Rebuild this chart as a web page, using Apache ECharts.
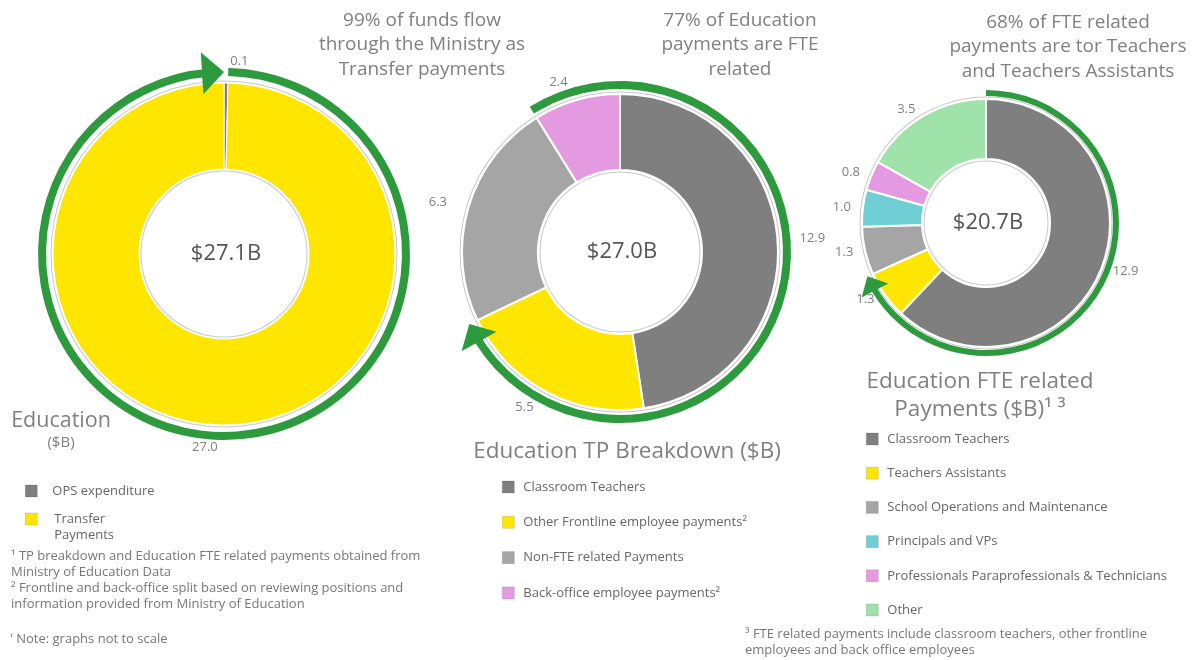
<!DOCTYPE html>
<html>
<head>
<meta charset="utf-8">
<title>Education funding breakdown</title>
<script src="https://cdn.jsdelivr.net/npm/echarts@6/dist/echarts.min.js"></script>
<style>
  html, body { margin: 0; padding: 0; background: #fff; }
  #main { width: 1201px; height: 660px; }
</style>
</head>
<body>
<div id="main"></div>
<script>
// values, $B
const eduNames = ['OPS expenditure', 'Transfer Payments'];
const eduValues = [0.1, 27.0];
const eduTotalLabel = '$27.1B';

const tpNames = ['Classroom Teachers', 'Other Frontline employee payments', 'Non-FTE related Payments', 'Back-office employee payments'];
const tpValues = [12.9, 5.5, 6.3, 2.4];
const tpTotalLabel = '$27.0B';

const fteNames = ['Classroom Teachers', 'Teachers Assistants', 'School Operations and Maintenance', 'Principals and VPs', 'Professionals Paraprofessionals & Technicians', 'Other'];
const fteValues = [12.9, 1.3, 1.3, 1.0, 0.8, 3.5];
const fteTotalLabel = '$20.7B';

const callouts = [
  '99% of funds flow\nthrough the Ministry as\nTransfer payments',
  '77% of Education\npayments are FTE\nrelated',
  '68% of FTE related\npayments are tor Teachers\nand Teachers Assistants'
];

const colorOf = {
  'OPS expenditure': '#7f7f7f',
  'Transfer Payments': '#ffe600',
  'Classroom Teachers': '#7f7f7f',
  'Other Frontline employee payments': '#ffe600',
  'Non-FTE related Payments': '#a5a5a5',
  'Back-office employee payments': '#e49ae0',
  'Teachers Assistants': '#ffe600',
  'School Operations and Maintenance': '#a5a5a5',
  'Principals and VPs': '#6fcfd5',
  'Professionals Paraprofessionals & Technicians': '#e49ae0',
  'Other': '#9fe2aa'
};

const GREEN = '#2e9a3e';
const FONT = '"Open Sans", "Noto Sans", sans-serif';
const GREY_TEXT = '#808080';

// arcFrom/arcCount = which slices the green arrow runs over (clockwise)
const donuts = [
  { names: eduNames, values: eduValues, total: eduTotalLabel, center: [224, 254], radius: [85, 171], ring: [178, 186], labelLen: 22, border: 1, arcFrom: 1, arcCount: 1, arrow: [42, 22] },
  { names: tpNames, values: tpValues, total: tpTotalLabel, center: [620, 252], radius: [82, 158], ring: [163, 171], labelLen: 18, border: 2, arcFrom: 3, arcCount: 3, arrow: [40, 20] },
  { names: fteNames, values: fteValues, total: fteTotalLabel, center: [986, 223], radius: [64, 124], ring: [127, 133], labelLen: 8, border: 2, arcFrom: 0, arcCount: 2, arrow: [30, 16] }
];

function sum(a) { return a.reduce((s, v) => s + v, 0); }
function polar(c, r, deg) {
  const a = deg * Math.PI / 180;
  return [c[0] + r * Math.cos(a), c[1] - r * Math.sin(a)];
}

const series = [];
const graphics = [];

donuts.forEach(function (d) {
  const tot = sum(d.values);
  const n = d.values.length;

  // thin grey outlines around the donut
  [[d.radius[1] + 1.5, d.radius[1] + 2.5], [d.radius[0] - 2.5, d.radius[0] - 1.5]].forEach(function (r) {
    series.push({
      type: 'pie', silent: true, center: d.center, radius: r,
      label: { show: false }, labelLine: { show: false },
      emphasis: { disabled: true },
      data: [{ value: 1, name: '_outline', itemStyle: { color: '#c8c8c8' } }]
    });
  });

  series.push({
    type: 'pie',
    center: d.center,
    radius: d.radius,
    startAngle: 90,
    clockwise: true,
    avoidLabelOverlap: false,
    itemStyle: { borderColor: '#fff', borderWidth: d.border },
    label: {
      show: true, position: 'outside', color: '#7f7f7f', fontSize: 13, fontFamily: FONT,
      distanceToLabelLine: 4,
      formatter: function (p) { return p.value.toFixed(1); }
    },
    labelLine: { show: false, length: d.labelLen, length2: 0 },
    emphasis: { disabled: true },
    data: d.names.map(function (name, i) {
      return { name: name, value: d.values[i], itemStyle: { color: colorOf[name] } };
    })
  });

  // green arrow arc
  const before = sum(d.values.slice(0, d.arcFrom));
  const startDeg = 90 - 360 * before / tot;
  let g = 0;
  for (let k = 0; k < d.arcCount; k++) g += d.values[(d.arcFrom + k) % n];
  const rc = (d.ring[0] + d.ring[1]) / 2;
  const endDeg = startDeg - 360 * g / tot;
  const aw = d.arrow[0], ah = d.arrow[1];
  const trimV = tot * (ah * 0.6 / rc) / (2 * Math.PI);

  series.push({
    type: 'pie', silent: true, center: d.center, radius: d.ring,
    startAngle: startDeg, clockwise: true,
    label: { show: false }, labelLine: { show: false },
    emphasis: { disabled: true },
    itemStyle: { borderWidth: 0 },
    data: [
      { value: g - trimV, name: '_arc', itemStyle: { color: GREEN } },
      { value: tot - g + trimV, name: '_gap', itemStyle: { color: 'rgba(0,0,0,0)' } }
    ]
  });

  const tip = polar(d.center, rc, endDeg);
  const base = polar(d.center, rc, endDeg + (ah / rc) * 180 / Math.PI);
  let dx = tip[0] - base[0], dy = tip[1] - base[1];
  const len = Math.sqrt(dx * dx + dy * dy);
  dx /= len; dy /= len;
  const nx = -dy, ny = dx;
  const tipPt = [base[0] + dx * ah, base[1] + dy * ah];
  graphics.push({
    type: 'polygon', z: 100,
    shape: { points: [tipPt, [base[0] + nx * aw / 2, base[1] + ny * aw / 2], [base[0] - nx * aw / 2, base[1] - ny * aw / 2]] },
    style: { fill: GREEN }
  });

  // total in the hole
  graphics.push({
    type: 'text', x: d.center[0] + 2, y: d.center[1], z: 100,
    style: { text: d.total, font: '22px ' + FONT, fill: '#555', align: 'center', verticalAlign: 'middle', textAlign: 'center', textVerticalAlign: 'middle' }
  });
});

function addText(x, y, text, size, lineHeight, align, color) {
  graphics.push({
    type: 'text', x: x, y: y, z: 100,
    style: {
      text: text, font: size + 'px ' + FONT, fill: color || GREY_TEXT, lineHeight: lineHeight,
      align: align, verticalAlign: 'top', textAlign: align, textVerticalAlign: 'top'
    }
  });
}

// callouts above each donut
addText(422, 8, callouts[0], 19, 24.5, 'center');
addText(740, 8, callouts[1], 19, 24.5, 'center');
addText(1068, 10, callouts[2], 19, 24.5, 'center');

// chart titles
addText(61, 407, 'Education', 21.5, 28, 'center');
addText(61, 434, '($B)', 15, 18, 'center');
addText(627, 438, 'Education TP Breakdown ($B)', 22.5, 28, 'center');
addText(980, 368, 'Education FTE related\nPayments ($B)\u00b9 \u00b3', 22.5, 28, 'center');

// footnotes
addText(11, 548, '\u00b9 TP breakdown and Education FTE related payments obtained from\nMinistry of Education Data\n\u00b2 Frontline and back-office split based on reviewing positions and\ninformation provided from Ministry of Education', 13, 16, 'left', '#777');
addText(10, 631, '\' Note: graphs not to scale', 13, 16, 'left', '#777');
addText(745, 626, '\u00b3 FTE related payments include classroom teachers, other frontline\nemployees and back office employees', 13, 16, 'left', '#777');

const supTwo = { 'Other Frontline employee payments': '\u00b2', 'Back-office employee payments': '\u00b2' };
const legendText = { color: '#666', fontSize: 13, fontFamily: FONT, lineHeight: 16, padding: [0, 0, 0, 4] };
function legendBase(left, top, gap, names) {
  return {
    orient: 'vertical', left: left, top: top, padding: 0, itemGap: gap,
    icon: 'rect', itemWidth: 12, itemHeight: 12,
    itemStyle: { borderColor: 'rgba(0,0,0,0.2)', borderWidth: 0.6 },
    textStyle: legendText,
    selectedMode: false,
    formatter: function (name) { return name + (supTwo[name] || ''); },
    data: names
  };
}

// blank first line keeps "Transfer" level with its swatch
const legend1 = legendBase(25, 483, -4, [
  { name: 'OPS expenditure', textStyle: { padding: [0, 0, 0, 10] } },
  { name: 'Transfer Payments', textStyle: { padding: [0, 0, 0, 12] } }
]);
legend1.formatter = function (name) { return name === 'Transfer Payments' ? ' \nTransfer\nPayments' : name; };

const option = {
  animation: false,
  backgroundColor: '#ffffff',
  legend: [
    legend1,
    legendBase(502, 479, 19.3, tpNames.slice()),
    legendBase(866, 431, 18.2, fteNames.slice())
  ],
  graphic: { elements: graphics },
  series: series
};

const chart = echarts.init(document.getElementById('main'), null, { renderer: 'canvas' });
chart.setOption(option);
</script>
</body>
</html>
